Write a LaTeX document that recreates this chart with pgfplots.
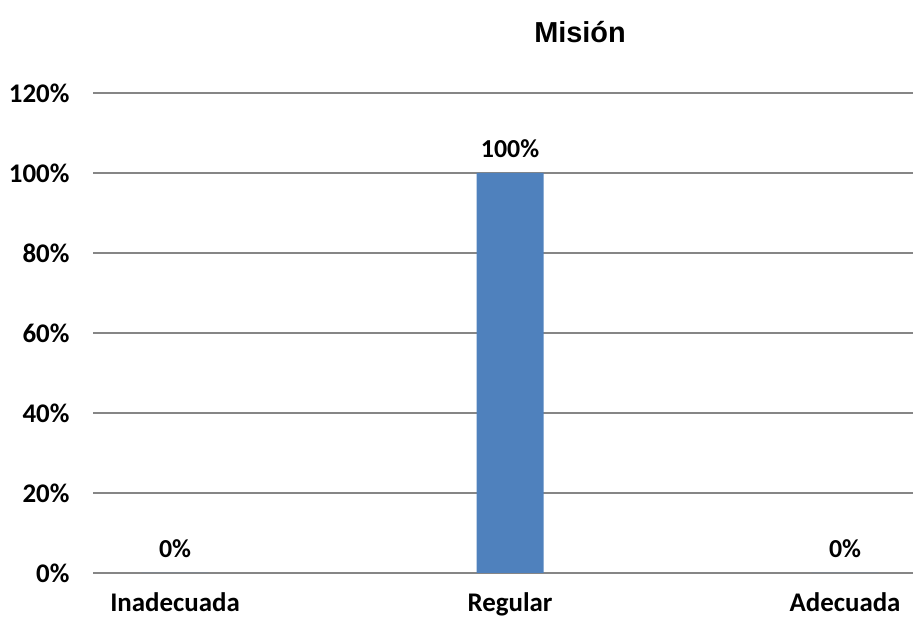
\documentclass[border=0pt]{standalone}
\usepackage{pgfplots}
\pgfplotsset{compat=1.18}
\usepackage{fontspec}
\setmainfont{Carlito}
\newfontfamily\titlefont{Liberation Sans}
\definecolor{barblue}{HTML}{4F81BD}
\definecolor{gridgray}{HTML}{868686}
\begin{document}
\begin{tikzpicture}[x=1bp,y=1bp]
\useasboundingbox (0,0) rectangle (913,620);
\node[font=\titlefont\bfseries\fontsize{29}{32}\selectfont] at (580,588) {Misión};
\begin{axis}[
  at={(93bp,47bp)}, anchor=south west,
  scale only axis, width=820bp, height=480bp,
  ymin=0, ymax=120, ytick={0,20,...,120},
  xmin=-0.245, xmax=2.203,
  xtick={0,1,2}, xticklabels={Inadecuada,Regular,Adecuada},
  axis line style={draw=none},
  major tick length=0pt,
  ymajorgrids, grid style={gridgray, line width=1.6bp},
  yticklabel={\pgfmathprintnumber{\tick}\%},
  /pgf/number format/assume math mode=true,
  tick label style={font=\bfseries\fontsize{27}{30}\selectfont},
  yticklabel style={xshift=-20bp},
  xticklabel style={yshift=-16bp},
  clip=false,
  ybar, bar width=67bp,
  nodes near coords={\pgfmathprintnumber{\pgfplotspointmeta}\%},
  every node near coord/.append style={font=\bfseries\fontsize{26}{29}\selectfont, black, yshift=12bp},
]
\addplot[fill=barblue, draw=none] coordinates {(0,0) (1,100) (2,0)};
\end{axis}
\end{tikzpicture}
\end{document}
